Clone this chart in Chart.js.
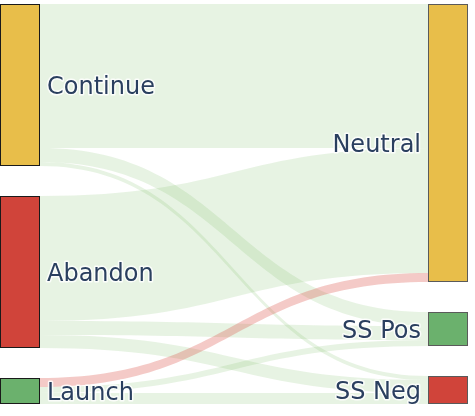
<!DOCTYPE html>
<html>
<head>
<meta charset="utf-8">
<script src="https://cdn.jsdelivr.net/npm/chart.js@4"></script>
<style>
  html, body { margin: 0; padding: 0; background: #fff; }
  #wrap { width: 475px; height: 416px; }
</style>
</head>
<body>
<div id="wrap"><canvas id="sankey"></canvas></div>
<script>
// Nodes: first column then second column
const nodeLabels = ['Continue', 'Abandon', 'Launch', 'Neutral', 'SS Pos', 'SS Neg'];
const nodeColumn = [0, 0, 0, 1, 1, 1];
const nodeColors = ['#E8BE4A', '#D0443A', '#6BB16D', '#E8BE4A', '#6BB16D', '#D0443A'];

// Links
const linkSource = [0, 0, 0, 1, 1, 1, 2, 2, 2];
const linkTarget = [3, 4, 5, 3, 4, 5, 3, 4, 5];
const linkValue = [144, 14, 4, 125, 14, 13, 9, 6, 11];
const linkColors = [
  'rgba(120,190,100,0.18)', 'rgba(120,190,100,0.18)', 'rgba(120,190,100,0.18)',
  'rgba(120,190,100,0.18)', 'rgba(120,190,100,0.18)', 'rgba(120,190,100,0.18)',
  'rgba(220,80,70,0.3)', 'rgba(120,190,100,0.18)', 'rgba(120,190,100,0.18)'
];

const NODE_PAD = 30;   // gap between nodes, in flow units
const NODE_W = 40;     // node thickness, px

function layout() {
  const n = nodeLabels.length;
  const size = new Array(n).fill(0);
  const inSum = new Array(n).fill(0), outSum = new Array(n).fill(0);
  linkValue.forEach((v, i) => { outSum[linkSource[i]] += v; inSum[linkTarget[i]] += v; });
  for (let i = 0; i < n; i++) size[i] = Math.max(inSum[i], outSum[i]);

  const y0 = new Array(n).fill(0);
  [0, 1].forEach(col => {
    let y = 0;
    for (let i = 0; i < n; i++) {
      if (nodeColumn[i] !== col) continue;
      y0[i] = y;
      y += size[i] + NODE_PAD;
    }
  });

  // link offsets: within source sorted by target position, within target by source position
  const order = linkValue.map((v, i) => i);
  const sy = new Array(linkValue.length), ty = new Array(linkValue.length);
  const srcOff = y0.slice(), tgtOff = y0.slice();
  order.slice().sort((a, b) => y0[linkTarget[a]] - y0[linkTarget[b]]).forEach(i => {
    sy[i] = srcOff[linkSource[i]];
    srcOff[linkSource[i]] += linkValue[i];
  });
  order.slice().sort((a, b) => y0[linkSource[a]] - y0[linkSource[b]]).forEach(i => {
    ty[i] = tgtOff[linkTarget[i]];
    tgtOff[linkTarget[i]] += linkValue[i];
  });
  return { size, y0, sy, ty };
}

const L = layout();
const yMax = Math.max(...[0, 1].map(col =>
  nodeLabels.reduce((s, _, i) => nodeColumn[i] === col ? s + L.size[i] + NODE_PAD : s, 0) - NODE_PAD));

const sankeyPlugin = {
  id: 'sankey',
  afterDatasetsDraw(chart) {
    const ctx = chart.ctx;
    const xs = chart.scales.x, ys = chart.scales.y;
    const colX = c => c === 0 ? xs.getPixelForValue(0) : xs.getPixelForValue(1) - NODE_W;

    // links
    linkValue.forEach((v, i) => {
      const x0 = colX(0) + NODE_W;
      const x1 = colX(1);
      const xm = (x0 + x1) / 2;
      const a0 = ys.getPixelForValue(L.sy[i]), a1 = ys.getPixelForValue(L.sy[i] + v);
      const b0 = ys.getPixelForValue(L.ty[i]), b1 = ys.getPixelForValue(L.ty[i] + v);
      ctx.beginPath();
      ctx.moveTo(x0, a0);
      ctx.bezierCurveTo(xm, a0, xm, b0, x1, b0);
      ctx.lineTo(x1, b1);
      ctx.bezierCurveTo(xm, b1, xm, a1, x0, a1);
      ctx.closePath();
      ctx.fillStyle = linkColors[i];
      ctx.fill();
    });

    // nodes
    nodeLabels.forEach((lab, i) => {
      const x = colX(nodeColumn[i]);
      const top = ys.getPixelForValue(L.y0[i]);
      const bot = ys.getPixelForValue(L.y0[i] + L.size[i]);
      ctx.fillStyle = nodeColors[i];
      ctx.fillRect(x, top, NODE_W, bot - top);
      ctx.lineWidth = 1;
      ctx.strokeStyle = nodeColumn[i] === 0 ? '#1a1a1a' : '#5a5a5a';
      ctx.strokeRect(Math.round(x) + 0.5, Math.round(top) + 0.5, NODE_W - 1, Math.round(bot - top) - 1);
    });

    // labels, with a white halo
    ctx.font = '24px "DejaVu Sans"';
    ctx.textBaseline = 'middle';
    nodeLabels.forEach((lab, i) => {
      const top = ys.getPixelForValue(L.y0[i]);
      const bot = ys.getPixelForValue(L.y0[i] + L.size[i]);
      const cy = (top + bot) / 2 + 2.5;
      let tx;
      if (nodeColumn[i] === 0) { ctx.textAlign = 'left'; tx = colX(0) + NODE_W + 7; }
      else { ctx.textAlign = 'right'; tx = colX(1) - 7; }
      ctx.save();
      ctx.lineJoin = 'round';
      ctx.strokeStyle = 'rgba(255,255,255,0.85)';
      ctx.lineWidth = 3;
      ctx.strokeText(lab, tx, cy);
      ctx.restore();
      ctx.fillStyle = '#2a3f5f';
      ctx.fillText(lab, tx, cy);
    });
  }
};

new Chart(document.getElementById('sankey'), {
  type: 'scatter',
  data: { datasets: [{ data: [] }] },
  options: {
    responsive: true,
    maintainAspectRatio: false,
    animation: false,
    layout: { padding: { left: 0, right: 7, top: 4, bottom: 12 } },
    plugins: { legend: { display: false }, tooltip: { enabled: false } },
    scales: {
      x: { type: 'linear', min: 0, max: 1, display: false },
      y: { type: 'linear', min: 0, max: yMax, reverse: true, display: false }
    }
  },
  plugins: [sankeyPlugin]
});
</script>
</body>
</html>
